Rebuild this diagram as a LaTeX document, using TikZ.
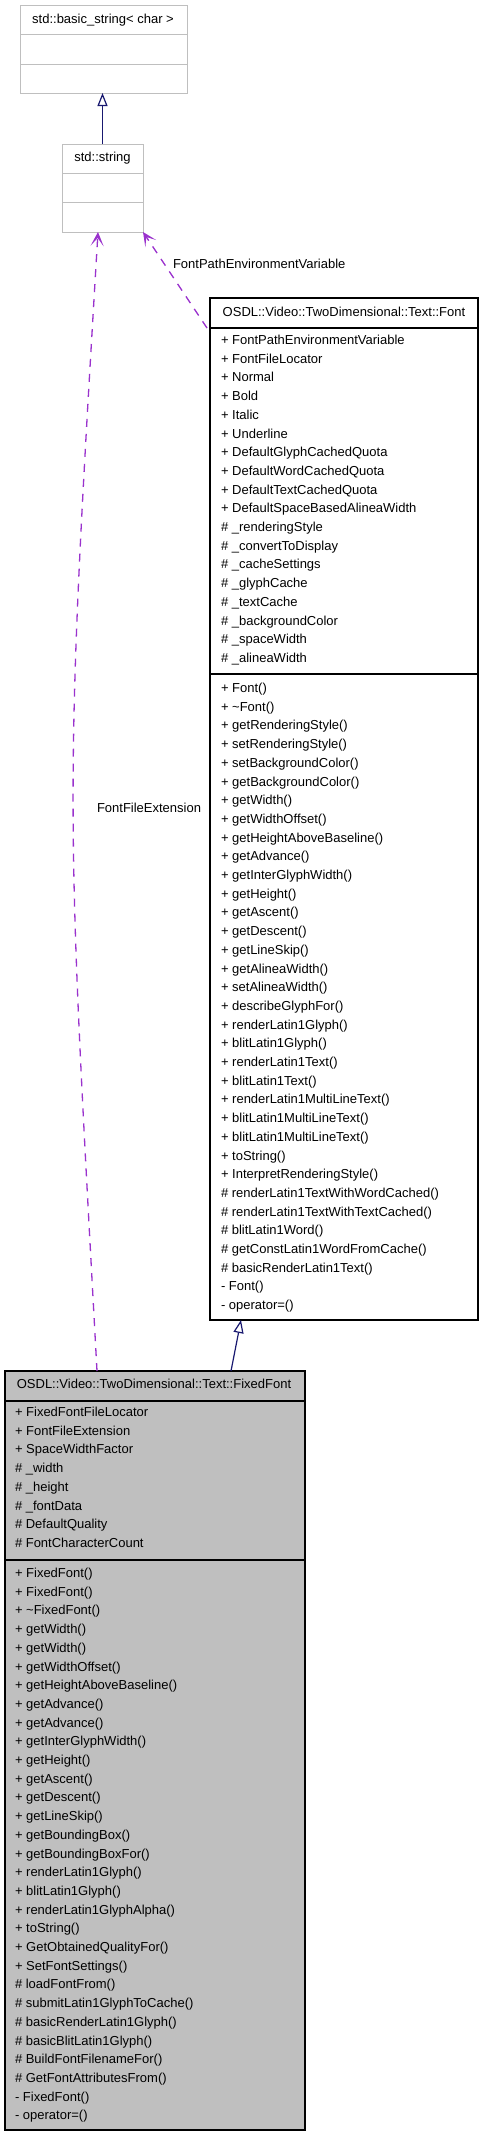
\documentclass[tikz,border=0pt]{standalone}
\usepackage{fontspec}
\setmainfont{Liberation Sans}
\usetikzlibrary{arrows.meta}
\definecolor{inhcol}{HTML}{191970}
\definecolor{usecol}{HTML}{9A32CD}
\definecolor{grayedge}{HTML}{BFBFBF}
\definecolor{ffill}{HTML}{BFBFBF}
\begin{document}
\begin{tikzpicture}[x=1pt,y=-1pt,
  every node/.style={font=\fontsize{13}{15.6}\selectfont, inner sep=0pt, outer sep=0pt},
  graybox/.style={draw=grayedge, line width=1pt, anchor=north west},
  blackbox/.style={draw=black, line width=1.3pt, anchor=north west},
  graysep/.style={draw=grayedge, line width=1pt},
  blacksep/.style={draw=black, line width=1.3pt},
  member/.style={anchor=base west},
  headtext/.style={anchor=base},
  inh/.style={draw=inhcol, line width=1.2pt, -{Triangle[length=13pt,width=10pt,fill=white]}},
  usearrow/.style={draw=usecol, line width=1.3pt, dash pattern=on 8pt off 7pt, -{Stealth[length=14pt,width=13pt,inset=8pt]}},
  lbl/.style={anchor=base west}]
\useasboundingbox (0,0) rectangle (483,2136);

% std::basic_string< char >
\node[graybox, minimum width=167, minimum height=88] (bs) at (20,5) {};
\draw[graysep] (20,34) -- (187,34);
\draw[graysep] (20,64) -- (187,64);
\node[headtext] (bsh) at (103,23.5) {std::basic\_string< char >};

% std::string
\node[graybox, minimum width=81, minimum height=88] (str) at (62,144) {};
\draw[graysep] (62,173) -- (143,173);
\draw[graysep] (62,202) -- (143,202);
\node[headtext] (strh) at (102.5,161.5) {std::string};

% Font
\node[blackbox, minimum width=268, minimum height=1022] (font) at (210,298) {};
\draw[blacksep] (210,328) -- (478,328);
\draw[blacksep] (210,674) -- (478,674);
\node[headtext] (fonth) at (344,316.5) {OSDL::Video::TwoDimensional::Text::Font};
\foreach \t [count=\i from 0] in {%
  {+ FontPathEnvironmentVariable},{+ FontFileLocator},{+ Normal},{+ Bold},{+ Italic},{+ Underline},
  {+ DefaultGlyphCachedQuota},{+ DefaultWordCachedQuota},{+ DefaultTextCachedQuota},
  {+ DefaultSpaceBasedAlineaWidth},{\# \_renderingStyle},{\# \_convertToDisplay},
  {\# \_cacheSettings},{\# \_glyphCache},{\# \_textCache},{\# \_backgroundColor},
  {\# \_spaceWidth},{\# \_alineaWidth}}
  \node[member] (fa\i) at (221,344.5+18.7*\i) {\t};
\foreach \t [count=\i from 0] in {%
  {+ Font()},{+ \textasciitilde Font()},{+ getRenderingStyle()},{+ setRenderingStyle()},
  {+ setBackgroundColor()},{+ getBackgroundColor()},{+ getWidth()},{+ getWidthOffset()},
  {+ getHeightAboveBaseline()},{+ getAdvance()},{+ getInterGlyphWidth()},{+ getHeight()},
  {+ getAscent()},{+ getDescent()},{+ getLineSkip()},{+ getAlineaWidth()},{+ setAlineaWidth()},
  {+ describeGlyphFor()},{+ renderLatin1Glyph()},{+ blitLatin1Glyph()},{+ renderLatin1Text()},
  {+ blitLatin1Text()},{+ renderLatin1MultiLineText()},{+ blitLatin1MultiLineText()},
  {+ blitLatin1MultiLineText()},{+ toString()},{+ InterpretRenderingStyle()},
  {\# renderLatin1TextWithWordCached()},{\# renderLatin1TextWithTextCached()},
  {\# blitLatin1Word()},{\# getConstLatin1WordFromCache()},{\# basicRenderLatin1Text()},
  {- Font()},{- operator=()}}
  \node[member] (fm\i) at (221,692.5+18.7*\i) {\t};

% FixedFont
\node[blackbox, fill=ffill, minimum width=300, minimum height=759] (ff) at (5,1371) {};
\draw[blacksep] (5,1401) -- (305,1401);
\draw[blacksep] (5,1560) -- (305,1560);
\node[headtext] (ffh) at (154,1388.5) {OSDL::Video::TwoDimensional::Text::FixedFont};
\foreach \t [count=\i from 0] in {%
  {+ FixedFontFileLocator},{+ FontFileExtension},{+ SpaceWidthFactor},{\# \_width},
  {\# \_height},{\# \_fontData},{\# DefaultQuality},{\# FontCharacterCount}}
  \node[member] (ffa\i) at (15,1416.5+18.7*\i) {\t};
\foreach \t [count=\i from 0] in {%
  {+ FixedFont()},{+ FixedFont()},{+ \textasciitilde FixedFont()},{+ getWidth()},{+ getWidth()},
  {+ getWidthOffset()},{+ getHeightAboveBaseline()},{+ getAdvance()},{+ getAdvance()},
  {+ getInterGlyphWidth()},{+ getHeight()},{+ getAscent()},{+ getDescent()},{+ getLineSkip()},
  {+ getBoundingBox()},{+ getBoundingBoxFor()},{+ renderLatin1Glyph()},{+ blitLatin1Glyph()},
  {+ renderLatin1GlyphAlpha()},{+ toString()},{+ GetObtainedQualityFor()},{+ SetFontSettings()},
  {\# loadFontFrom()},{\# submitLatin1GlyphToCache()},{\# basicRenderLatin1Glyph()},
  {\# basicBlitLatin1Glyph()},{\# BuildFontFilenameFor()},{\# GetFontAttributesFrom()},
  {- FixedFont()},{- operator=()}}
  \node[member] (ffm\i) at (15,1577.5+18.7*\i) {\t};

% connector end points
\coordinate (fontA) at (207,328);
\coordinate (ffA) at (97,1371);
\coordinate (strB) at (98,232);
\coordinate (ffB) at (231,1371);
\coordinate (fontB) at (241,1320);

% connectors
\draw[inh] (str.north) -- (str.north |- bs.south);
\draw[inh] (ffB) -- (fontB);
\draw[usearrow] (fontA) -- (str.south east);
\draw[usearrow] (ffA) .. controls (66,801) and (64,802) .. (strB);

% labels
\node[lbl] (lblpath) at (173,268.5) {FontPathEnvironmentVariable};
\node[lbl] (lblext) at (97,812.5) {FontFileExtension};
\end{tikzpicture}
\end{document}
